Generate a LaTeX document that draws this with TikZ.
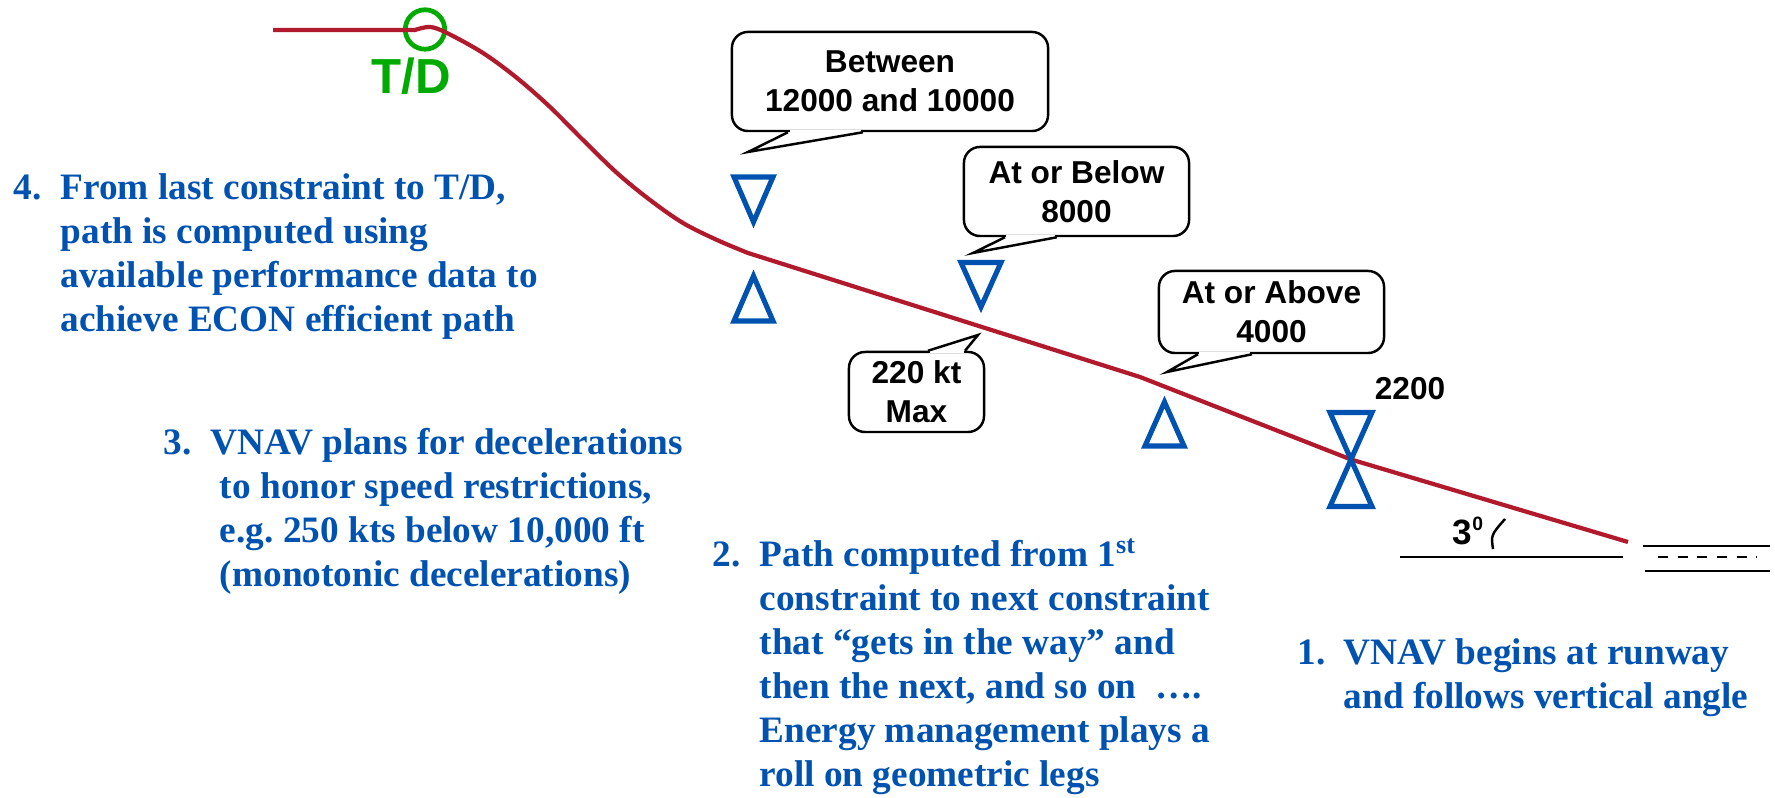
\documentclass[tikz,border=0pt]{standalone}
\usepackage{fontspec}
\setmainfont{Liberation Serif}
\newfontfamily\arialfont{Liberation Sans}
\usepackage{tikz}
\usetikzlibrary{positioning}
\definecolor{pathred}{RGB}{176,26,44}
\definecolor{consblue}{RGB}{0,82,176}
\definecolor{tdgreen}{RGB}{0,170,0}

\begin{document}
\begin{tikzpicture}[x=0.01cm, y=-0.01cm,
        vpath/.style={draw=pathred, line width=1.2pt, line join=round},
        cons/.style={draw=consblue, line width=1.45pt},
        bubble/.style={draw, line width=0.7pt, fill=white, rounded corners=1.6mm, inner sep=0pt,
                      align=center, font=\arialfont\bfseries\fontsize{9}{11}\selectfont},
        tail/.style={draw, line width=0.7pt, fill=white},
        note/.style={text=consblue, inner sep=0pt, anchor=base west,
                      font=\bfseries\fontsize{10.6}{12.5}\selectfont},
        lbl/.style={inner sep=0pt, font=\arialfont\bfseries\fontsize{9}{11}\selectfont},
        ground/.style={line width=0.7pt},
      ]
        \useasboundingbox (0,0) rectangle (1775,798);

        % top of descent
        \node[circle, draw=tdgreen, line width=1.35pt, minimum size=3.94mm, inner sep=0pt] (td) at (425,29.5) {};
        \node[text=tdgreen, inner sep=0pt, font=\arialfont\bfseries\fontsize{14}{16}\selectfont] (tdl) at (411,76) {T/D};

        % vertical path
        \coordinate (kinkA) at (748,253);
        \coordinate (kinkB) at (1140,377);
        \coordinate (kinkC) at (1351,459.5);
        \coordinate (thr) at (1628,542);
        \draw[vpath] (273,30) -- (415,30) -- plot[smooth, tension=0.55] coordinates {(415,30) (430,27) (447,33)
            (483,53) (517,78) (550,107) (583,140) (617,173) (650,200) (683,223) (717,240) (kinkA)}
            -- (kinkB) -- (kinkC) -- (thr);

        % altitude constraints
        \draw[cons] (734,177) -- (773,177) -- (753.5,222) -- cycle;
        \draw[cons] (734,321) -- (773,321) -- (753.5,276) -- cycle;
        \draw[cons] (961,262.5) -- (1001,262.5) -- (981,307) -- cycle;
        \draw[cons] (1145,446) -- (1184,446) -- (1164.5,402) -- cycle;
        \draw[cons] (1330,412.5) -- (1372,412.5) -- (1330,506.5) -- (1372,506.5) -- cycle;

        % callouts
        \node[bubble, minimum width=3.16cm, minimum height=0.99cm] (btw) at (890,81.5) {Between\\12000 and 10000};
        \fill[white] ([xshift=-1.0cm, yshift=0.7pt]btw.south) rectangle ([xshift=-0.29cm, yshift=-0.7pt]btw.south);
        \coordinate (btwtip) at (748,152);
        \draw[tail] ([xshift=-1.02cm]btw.south) -- (btwtip) -- ([xshift=-0.27cm]btw.south);

        \node[bubble, minimum width=2.25cm, minimum height=0.89cm] (abl) at (1076.5,191.5) {At or Below\\8000};
        \fill[white] ([xshift=-0.70cm, yshift=0.7pt]abl.south) rectangle ([xshift=-0.21cm, yshift=-0.7pt]abl.south);
        \coordinate (abltip) at (973,253);
        \draw[tail] ([xshift=-0.715cm]abl.south) -- (abltip) -- ([xshift=-0.195cm]abl.south);

        \node[bubble, minimum width=2.25cm, minimum height=0.82cm] (aab) at (1271.5,312) {At or Above\\4000};
        \fill[white] ([xshift=-0.72cm, yshift=0.7pt]aab.south) rectangle ([xshift=-0.21cm, yshift=-0.7pt]aab.south);
        \coordinate (aabtip) at (1167,372);
        \draw[tail] ([xshift=-0.735cm]aab.south) -- (aabtip) -- ([xshift=-0.195cm]aab.south);

        \node[bubble, minimum width=1.35cm, minimum height=0.8cm] (spd) at (916.5,392) {220 kt\\Max};
        \fill[white] ([xshift=0.13cm, yshift=0.7pt]spd.north) rectangle ([xshift=0.47cm, yshift=-0.7pt]spd.north);
        \coordinate (spdtip) at (978,335);
        \draw[tail] ([xshift=0.115cm]spd.north) -- (spdtip) -- ([xshift=0.485cm]spd.north);

        \node[lbl] (alt) at (1410,388.5) {2200};

        % runway and glide angle
        \draw[ground] (1400,557) -- (1623,557);
        \draw[ground] (1643,546) -- (1770,546);
        \draw[ground, dash pattern=on 2.8pt off 2.8pt] (1658,557) -- (1757,557);
        \draw[ground] (1645,571) -- (1770,571);
        \draw[ground] (1493,549) .. controls (1491,535) .. (1505,519);
        \node[lbl, font=\arialfont\bfseries\fontsize{10}{12}\selectfont] (ang) at (1468,531) {3\raisebox{0.75ex}{\fontsize{5.5}{6}\selectfont 0}};

        % notes
        \node[note] (note4) at (13,200) {\begin{tabular}[t]{@{}l@{\hspace{0.19cm}}l@{}}
            4. & From last constraint to T/D,\\
               & path is computed using\\
               & available performance data to\\
               & achieve ECON efficient path
          \end{tabular}};
        \node[note] (note3) at (163,455) {\begin{tabular}[t]{@{}l@{\hspace{0.19cm}}l@{}}
            3. & VNAV plans for decelerations\\
               & \hspace{0.25em}to honor speed restrictions,\\
               & \hspace{0.25em}e.g.\ 250 kts below 10,000 ft\\
               & \hspace{0.25em}(monotonic decelerations)
          \end{tabular}};
        \node[note] (note2) at (712,567) {\begin{tabular}[t]{@{}l@{\hspace{0.19cm}}l@{}}
            2. & Path computed from 1\textsuperscript{st}\\
               & constraint to next constraint\\
               & that “gets in the way” and\\
               & then the next, and so on\ \ ….\\
               & Energy management plays a\\
               & roll on geometric legs
          \end{tabular}};
        \node[note] (note1) at (1297,665) {\begin{tabular}[t]{@{}l@{\hspace{0.18cm}}l@{}}
            1. & VNAV begins at runway\\
               & and follows vertical angle
          \end{tabular}};
      \end{tikzpicture}
\end{document}
